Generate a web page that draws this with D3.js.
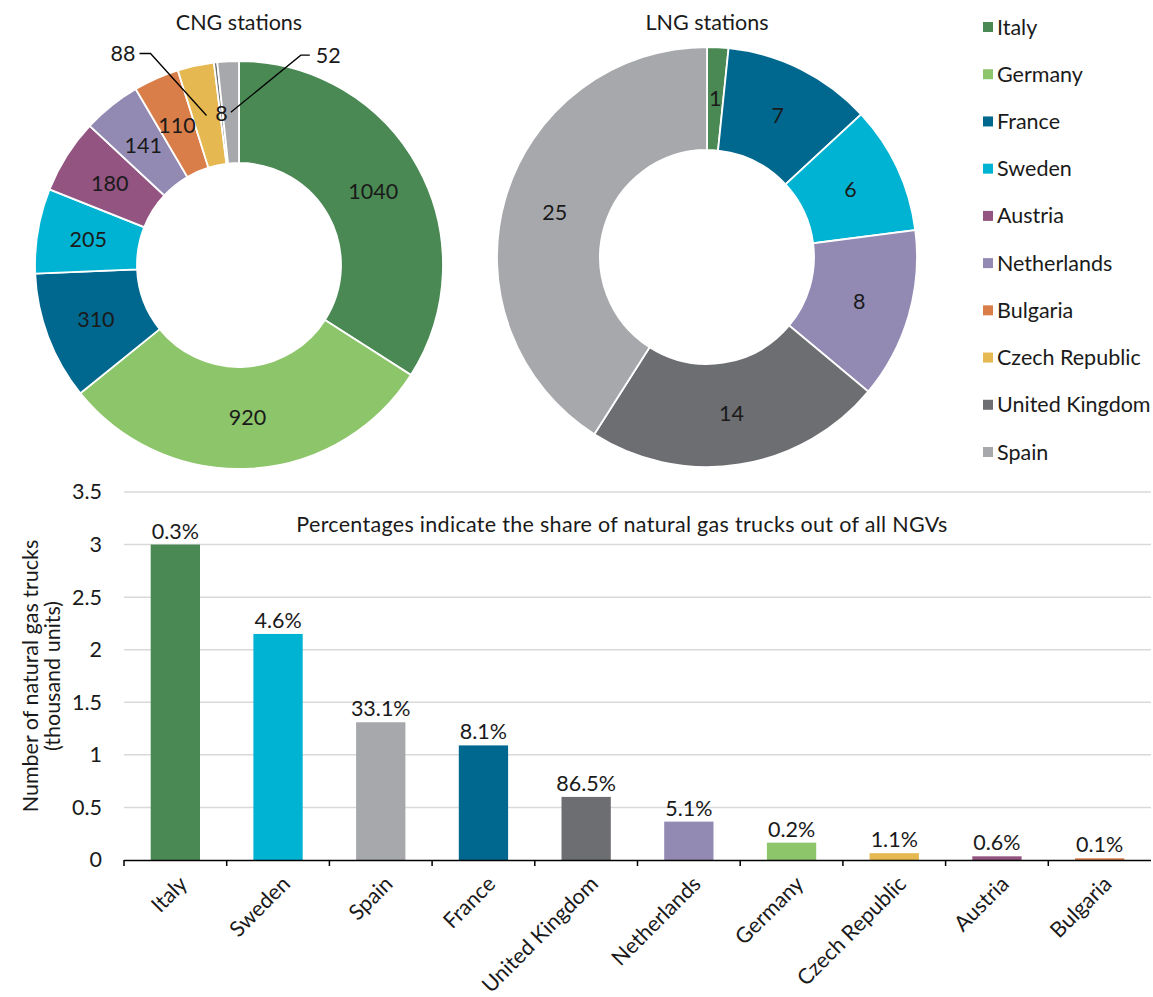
<!DOCTYPE html>
<html><head><meta charset="utf-8">
<script src="https://cdn.jsdelivr.net/npm/d3@7"></script>
<style>
body{margin:0;background:#fff;}
text{font-family:Lato,"Open Sans",sans-serif;fill:#1a1a1a;}
</style></head>
<body>
<svg id="chart" width="1153" height="997"></svg>
<script>
// ---- data ----
const countries = ["Italy","Germany","France","Sweden","Austria","Netherlands","Bulgaria","Czech Republic","United Kingdom","Spain"];
const countryColors = ["#4a8953","#8dc56a","#00688e","#00b3d3","#935481","#938ab4","#d97e48","#e5b851","#6d6e71","#a7a8ab"];
const cngValues = [1040,920,310,205,180,141,110,88,8,52];
const lngValues = [1,0,7,6,0,8,0,0,14,25];
const barCountries = ["Italy","Sweden","Spain","France","United Kingdom","Netherlands","Germany","Czech Republic","Austria","Bulgaria"];
const truckValues = [3.0,2.15,1.31,1.09,0.6,0.365,0.165,0.065,0.035,0.016];
const truckShares = ["0.3%","4.6%","33.1%","8.1%","86.5%","5.1%","0.2%","1.1%","0.6%","0.1%"];
const yTicks = [0,0.5,1,1.5,2,2.5,3,3.5];

const FS = 21.5;
const svg = d3.select("#chart");
const color = d3.scaleOrdinal().domain(countries).range(countryColors);

// ---- donuts ----
function donut(values, cx, cy, R, r, title, leaders) {
  const g = svg.append("g").attr("transform", `translate(${cx},${cy})`);
  const data = countries.map((c,i)=>({c, v: values[i]}));
  const pie = d3.pie().value(d=>d.v).sort(null);
  const arcs = pie(data);
  const arc = d3.arc().innerRadius(r).outerRadius(R);
  const labelArc = d3.arc().innerRadius((r+R)/2).outerRadius((r+R)/2);
  g.selectAll("path").data(arcs.filter(a=>a.data.v>0)).join("path")
    .attr("d", arc).attr("fill", d=>color(d.data.c))
    .attr("stroke","#fff").attr("stroke-width",1.8);
  svg.append("text").attr("x",cx).attr("y",30).attr("text-anchor","middle")
    .attr("font-size",FS).text(title);
  arcs.filter(a=>a.data.v>0).forEach(a=>{
    const [x,y] = labelArc.centroid(a);
    const L = leaders[a.data.c];
    if (L) {
      const ex = x+L[0], ey = y+L[1], tx = ex + L[2];
      g.append("polyline").attr("points", `${x},${y} ${ex},${ey} ${tx},${ey}`)
        .attr("fill","none").attr("stroke","#000").attr("stroke-width",1.3);
      g.append("text").attr("x", tx + (L[2]<0?-4:6)).attr("y", ey)
        .attr("dy","0.35em").attr("text-anchor", L[2]<0?"end":"start")
        .attr("font-size",FS).text(a.data.v);
    } else {
      g.append("text").attr("x",x).attr("y",y).attr("dy","0.35em")
        .attr("text-anchor","middle").attr("font-size",FS).text(a.data.v);
    }
  });
}
donut(cngValues, 239, 265, 204, 102, "CNG stations",
  {"Czech Republic":[-56,-62,-11], "Spain":[70,-57,9]});
donut(lngValues, 707, 257, 210, 107, "LNG stations", {});

// ---- legend ----
const leg = svg.append("g");
const legY = d3.scalePoint().domain(countries).range([27,452]);
countries.forEach(c=>{
  leg.append("rect").attr("x",983).attr("y",legY(c)-5).attr("width",10).attr("height",10).attr("fill",color(c));
  leg.append("text").attr("x",997).attr("y",legY(c)).attr("dy","0.35em").attr("font-size",FS).text(c);
});

// ---- bar chart ----
const x = d3.scaleBand().domain(barCountries).range([124,1151]).paddingInner(0.52).paddingOuter(0.26);
const y = d3.scaleLinear().domain([0,3.5]).range([860,492]);
const grid = svg.append("g");
yTicks.filter(t=>t>0).forEach(t=>{
  grid.append("line").attr("x1",124).attr("x2",1151).attr("y1",y(t)).attr("y2",y(t))
    .attr("stroke","#d9d9d9").attr("stroke-width",1.5);
});
const yAxis = svg.append("g").attr("transform","translate(118,0)")
  .call(d3.axisLeft(y).tickValues(yTicks).tickFormat(d3.format("")).tickSize(0).tickPadding(16));
yAxis.select(".domain").remove();
yAxis.selectAll("text").attr("font-size",FS).attr("fill","#1a1a1a").style("font-family","Lato,sans-serif");

svg.append("g").selectAll("rect").data(barCountries).join("rect")
  .attr("x",d=>x(d)).attr("width",x.bandwidth())
  .attr("y",(d,i)=>y(truckValues[i])).attr("height",(d,i)=>y(0)-y(truckValues[i]))
  .attr("fill",d=>color(d));
svg.append("g").selectAll("text").data(barCountries).join("text")
  .attr("x",d=>x(d)+x.bandwidth()/2).attr("y",(d,i)=>y(truckValues[i])-6)
  .attr("text-anchor","middle").attr("font-size",FS).text((d,i)=>truckShares[i]);

// x axis
const step = x.step();
const xAxisG = svg.append("g");
xAxisG.append("line").attr("x1",124).attr("x2",1151).attr("y1",860.5).attr("y2",860.5).attr("stroke","#000").attr("stroke-width",1.5);
d3.range(barCountries.length).forEach(i=>{
  const tx = 124 + i*step;
  xAxisG.append("line").attr("x1",tx).attr("x2",tx).attr("y1",860).attr("y2",866).attr("stroke","#000").attr("stroke-width",1.5);
});
barCountries.forEach(c=>{
  const cx = x(c)+x.bandwidth()/2 + 8;
  xAxisG.append("text").attr("transform",`translate(${cx},880) rotate(-45)`)
    .attr("text-anchor","end").attr("dy","0.35em").attr("font-size",FS).text(c);
});

svg.append("text").attr("x",622).attr("y",532).attr("text-anchor","middle").attr("font-size",FS)
  .attr("letter-spacing",0.3)
  .text("Percentages indicate the share of natural gas trucks out of all NGVs");

const yl = svg.append("text").attr("transform","translate(30,676) rotate(-90)").attr("text-anchor","middle").attr("font-size",FS);
yl.append("tspan").attr("x",0).attr("dy","0.35em").text("Number of natural gas trucks");
yl.append("tspan").attr("x",0).attr("dy","1.05em").text("(thousand units)");
</script>
</body></html>
